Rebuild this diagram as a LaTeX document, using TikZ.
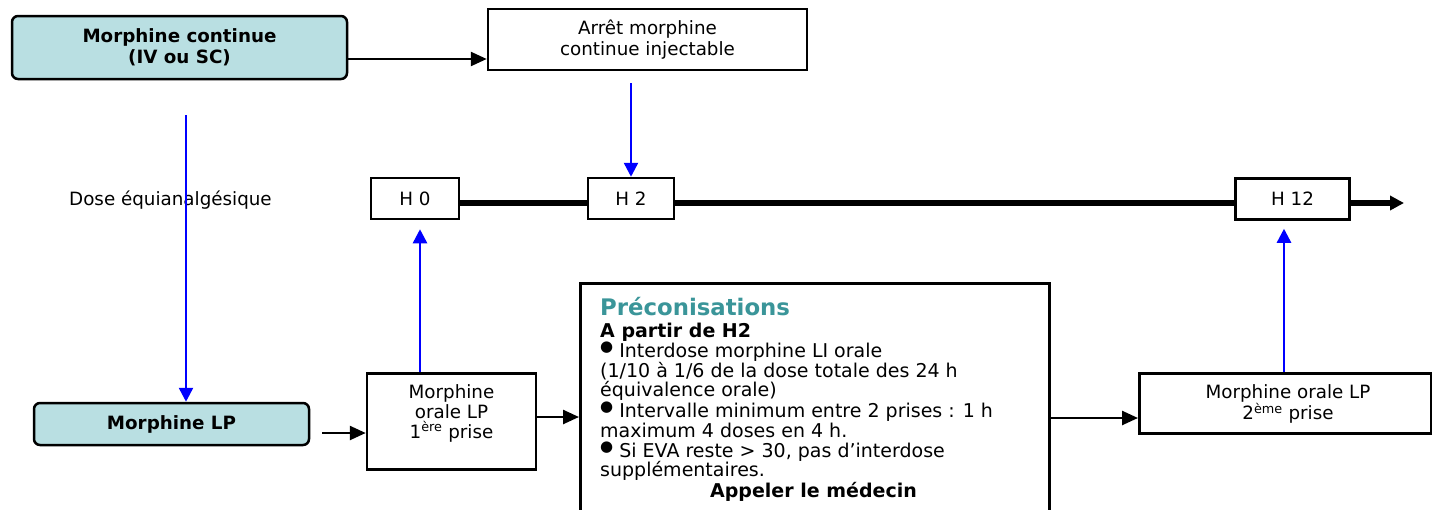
\documentclass[tikz,border=0pt]{standalone}
\usepackage{fontspec}
\setmainfont{DejaVu Sans}
\usetikzlibrary{arrows.meta}
\definecolor{boxfill}{HTML}{B9DFE2}
\definecolor{titleteal}{HTML}{3A9599}
\newcommand\bul{\raisebox{0.55ex}{\fontsize{15}{15}\selectfont ●}}
\tikzset{
  txt/.style={font=\fontsize{18.3}{21}\selectfont, align=center, inner sep=0pt},
  plainbox/.style={txt, draw, line width=2.5pt},
  bluebox/.style={plainbox, fill=boxfill, rounded corners=6pt, font=\fontsize{18.3}{21}\selectfont\bfseries},
  tbox/.style={plainbox, minimum height=41pt},
  arr/.style={line width=2.5pt, -{Triangle[length=16pt,width=14pt]}},
  barr/.style={line width=2.5pt, blue, -{Triangle[length=14pt,width=14pt]}},
  axis/.style={line width=6pt},
  pline/.style={font=\fontsize{19}{20}\selectfont, anchor=base west, inner sep=0pt}
}
\begin{document}
\begin{tikzpicture}[x=1pt,y=-1pt]
\clip (0,0) rectangle (1432,509);
\fill[white] (0,0) rectangle (1432,509);

% top row
\node[bluebox, minimum width=335pt, minimum height=63pt] (mc) at (179.5,47.5) {Morphine continue\\(IV ou SC)};
\node[plainbox, minimum width=319pt, minimum height=61pt] (arret) at (647.5,39.5) {Arrêt morphine\\continue injectable};

% time axis
\node[txt, anchor=west] (dose) at (69,200) {Dose équianalgésique};
\node[tbox, minimum width=88pt] (h0) at (415,198.5) {H 0};
\node[tbox, minimum width=86pt] (h2) at (631,198.5) {H 2};
\node[tbox, minimum width=114pt] (h12) at (1292.5,199) {H 12};
\coordinate (axisend) at (1404,203);

% bottom row
\node[bluebox, minimum width=275pt, minimum height=42pt] (mlp) at (171.5,424) {Morphine LP};
\node[plainbox, minimum width=169pt, minimum height=96pt, anchor=north] (mo1) at (451.5,372) {};
\node[txt, anchor=north, font=\fontsize{18.3}{20}\selectfont] (mo1t) at (451.5,384) {Morphine\\orale LP\\1\textsuperscript{ère} prise};
\node[plainbox, minimum width=469pt, minimum height=250pt, anchor=north west] (preco) at (579,282) {};
\node[plainbox, minimum width=292pt, minimum height=60pt, anchor=north west] (mo2) at (1138,372) {};
\node[txt, anchor=north, font=\fontsize{18.3}{20}\selectfont] (mo2t) at (1288,384) {Morphine orale LP\\2\textsuperscript{ème} prise};

% recommendations text
\node[pline, font=\fontsize{22.8}{26}\selectfont\bfseries, text=titleteal] (p0) at (600,315) {Préconisations};
\node[pline, font=\fontsize{19}{20}\selectfont\bfseries] (p1) at (600,337) {A partir de H2};
\node[pline] (p2) at (600,357) {\bul\ Interdose morphine LI orale};
\node[pline] (p3) at (600,377) {(1/10 à 1/6 de la dose totale des 24 h};
\node[pline] (p4) at (600,396.5) {équivalence orale)};
\node[pline] (p5) at (600,417) {\bul\ Intervalle minimum entre 2 prises : 1 h};
\node[pline] (p6) at (600,437) {maximum 4 doses en 4 h.};
\node[pline] (p7) at (600,457) {\bul\ Si EVA reste > 30, pas d’interdose};
\node[pline] (p8) at (600,476.5) {supplémentaires.};
\node[pline, anchor=base, font=\fontsize{19}{20}\selectfont\bfseries] (p9) at (813.5,497) {Appeler le médecin};

% connectors
\draw[arr] (mc.east |- 0,59) -- (arret.west |- 0,59);
\draw[barr] (h2.north |- 0,83) -- (h2.north);
\draw[axis] (h0.east |- 0,203) -- (h2.west |- 0,203);
\draw[axis] (h2.east |- 0,203) -- (h12.west |- 0,203);
\draw[axis, -{Triangle[length=14pt,width=14pt]}] (h12.east |- 0,203) -- (axisend);
\draw[barr] (186,115) -- (mlp.north -| 186,0);
\draw[barr, shorten >=9pt] (mo1.north -| 420,0) -- (h0.south -| 420,0);
\draw[barr, shorten >=8pt] (mo2.north -| 1284,0) -- (h12.south -| 1284,0);
\draw[arr] (322,433) -- (mo1.west |- 0,433);
\draw[arr] (mo1.east |- 0,417) -- (preco.west |- 0,417);
\draw[arr] (preco.east |- 0,418) -- (mo2.west |- 0,418);
\end{tikzpicture}
\end{document}
